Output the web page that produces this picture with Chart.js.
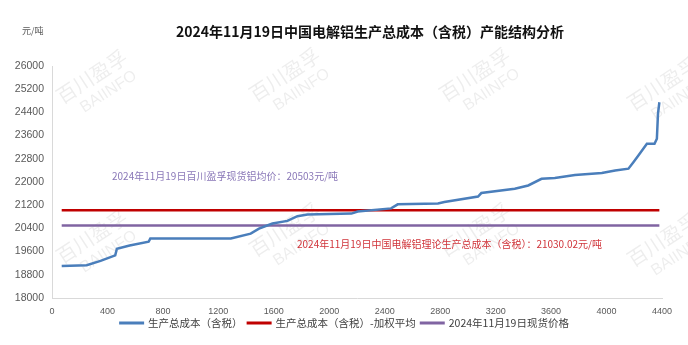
<!DOCTYPE html>
<html>
<head>
<meta charset="utf-8">
<script src="https://cdn.jsdelivr.net/npm/chart.js@4/dist/chart.umd.min.js"></script>
<style>
  html, body { margin: 0; padding: 0; background: #ffffff; }
  #wrap { width: 688px; height: 345px; }
</style>
</head>
<body>
<div id="wrap"><canvas id="c" width="688" height="345"></canvas></div>
<script>
// Cumulative capacity (万吨) and the matching total production cost (元/吨, 含税)
const capacity = [70, 250, 350, 456, 468, 560, 697, 709, 1290, 1433, 1493, 1590, 1698, 1770, 1843,
  2160, 2205, 2446, 2494, 2784, 2830, 3073, 3097, 3338, 3435, 3531, 3627, 3772, 3966, 4062,
  4158, 4195, 4231, 4291, 4346, 4363, 4371, 4381];
const totalCost = [19100, 19130, 19280, 19470, 19700, 19810, 19940, 20050, 20050, 20220, 20390, 20570, 20660, 20820, 20880,
  20910, 20980, 21090, 21230, 21260, 21310, 21500, 21620, 21770, 21880, 22110, 22140, 22240, 22310, 22400,
  22460, 22690, 22920, 23320, 23320, 23490, 24350, 24750];

// Reference levels
const weightedAvgCost = 21030.02;
const spotPrice = 20503;
const levelSpan = [70, 4381];

const seriesNames = ['生产总成本（含税）', '生产总成本（含税）-加权平均', '2024年11月19日现货价格'];
const titleText = '2024年11月19日中国电解铝生产总成本（含税）产能结构分析';
const unitText = '元/吨';
const spotNote = '2024年11月19日百川盈孚现货铝均价：' + spotPrice + '元/吨';
const costNote = '2024年11月19日中国电解铝理论生产总成本（含税）：' + weightedAvgCost.toFixed(2) + '元/吨';

const yTicks = { min: 18000, max: 26000, step: 800 };
const xTicks = { min: 0, max: 4400, step: 400 };

const cjk = '"Noto Sans CJK SC", "Noto Sans", sans-serif';
const latin = '"Liberation Sans", Arial, sans-serif';

const costPoints = capacity.map((x, i) => ({ x: x, y: totalCost[i] }));
const avgPoints = levelSpan.map(x => ({ x: x, y: weightedAvgCost }));
const spotPoints = levelSpan.map(x => ({ x: x, y: spotPrice }));

// Faint brand watermark tiled behind the plot
const watermark = {
  id: 'watermark',
  beforeDraw(chart) {
    const ctx = chart.ctx;
    const spots = [[97, 85], [290, 83], [480, 83], [668, 92], [97, 245], [290, 238], [480, 238], [668, 248]];
    ctx.save();
    ctx.fillStyle = 'rgba(0,0,0,0.07)';
    ctx.textAlign = 'center';
    ctx.textBaseline = 'middle';
    spots.forEach(([cx, cy]) => {
      ctx.save();
      ctx.translate(cx, cy);
      ctx.rotate(-33 * Math.PI / 180);
      ctx.font = '20px ' + cjk;
      ctx.fillText('百川盈孚', 0, -10);
      ctx.font = '16px ' + latin;
      ctx.fillText('BAIINFO', 6, 12);
      ctx.restore();
    });
    ctx.restore();
  }
};

// Title, unit label and the two value notes
const captions = {
  id: 'captions',
  afterDatasetsDraw(chart) {
    const ctx = chart.ctx;
    ctx.save();
    ctx.textBaseline = 'middle';
    ctx.textAlign = 'center';
    ctx.fillStyle = '#111111';
    ctx.font = 'bold 14px ' + cjk;
    ctx.fillText(titleText, 370, 32);
    ctx.textAlign = 'left';
    ctx.fillStyle = '#595959';
    ctx.font = '9px ' + cjk;
    ctx.fillText(unitText, 22, 31);
    ctx.font = '10px ' + cjk;
    ctx.fillStyle = '#8a78b8';
    ctx.fillText(spotNote, 112, 176);
    ctx.fillStyle = '#d0343a';
    ctx.fillText(costNote, 297, 244);
    ctx.restore();
  }
};

// Bottom legend: short line swatch followed by the series name, centred on the canvas
const lineLegend = {
  id: 'lineLegend',
  afterDraw(chart) {
    const ctx = chart.ctx;
    const sets = chart.data.datasets;
    const swatch = 25, gap = 4, itemGap = 4, cy = 323;
    ctx.save();
    ctx.font = '10.5px ' + cjk;
    ctx.textBaseline = 'middle';
    ctx.textAlign = 'left';
    const widths = sets.map(d => ctx.measureText(d.label).width);
    const total = widths.reduce((a, w) => a + swatch + gap + w, 0) + itemGap * (sets.length - 1);
    let x = chart.width / 2 - total / 2;
    sets.forEach((d, i) => {
      ctx.fillStyle = d.borderColor;
      ctx.fillRect(x, cy - 1.5, swatch, 3);
      x += swatch + gap;
      ctx.fillStyle = '#404040';
      ctx.fillText(d.label, x, cy);
      x += widths[i] + itemGap;
    });
    ctx.restore();
  }
};

new Chart(document.getElementById('c'), {
  type: 'line',
  data: {
    datasets: [
      { label: seriesNames[0], data: costPoints, borderColor: '#4a7ebb',
        borderWidth: 2.5, pointRadius: 0, tension: 0 },
      { label: seriesNames[1], data: avgPoints, borderColor: '#c00000',
        borderWidth: 2.5, pointRadius: 0 },
      { label: seriesNames[2], data: spotPoints, borderColor: '#8064a2',
        borderWidth: 2.5, pointRadius: 0 }
    ]
  },
  options: {
    responsive: false,
    animation: false,
    devicePixelRatio: 1,
    layout: { padding: { top: 66, left: 0, right: 26, bottom: 29 } },
    plugins: {
      title: { display: false },
      tooltip: { enabled: false },
      legend: { display: false }
    },
    scales: {
      x: {
        type: 'linear',
        min: xTicks.min, max: xTicks.max,
        grid: { display: true, color: 'rgba(0,0,0,0)', drawTicks: false },
        border: { display: true, color: '#d9d9d9', width: 1 },
        ticks: { stepSize: xTicks.step, maxTicksLimit: 20, color: '#595959', font: { family: latin, size: 9 }, padding: 8,
                 maxRotation: 0, autoSkip: false, z: 1, callback: v => String(v) },
        afterFit(s) { s.height = 18; }
      },
      y: {
        min: yTicks.min, max: yTicks.max,
        grid: { display: true, color: 'rgba(0,0,0,0)', drawTicks: false },
        border: { display: true, color: '#d9d9d9', width: 1 },
        ticks: { stepSize: yTicks.step, maxTicksLimit: 20, color: '#595959', font: { family: latin, size: 10.5 }, padding: 8,
                 callback: v => String(v) },
        afterFit(s) { s.width = 52; }
      }
    }
  },
  plugins: [watermark, captions, lineLegend]
});
</script>
</body>
</html>
